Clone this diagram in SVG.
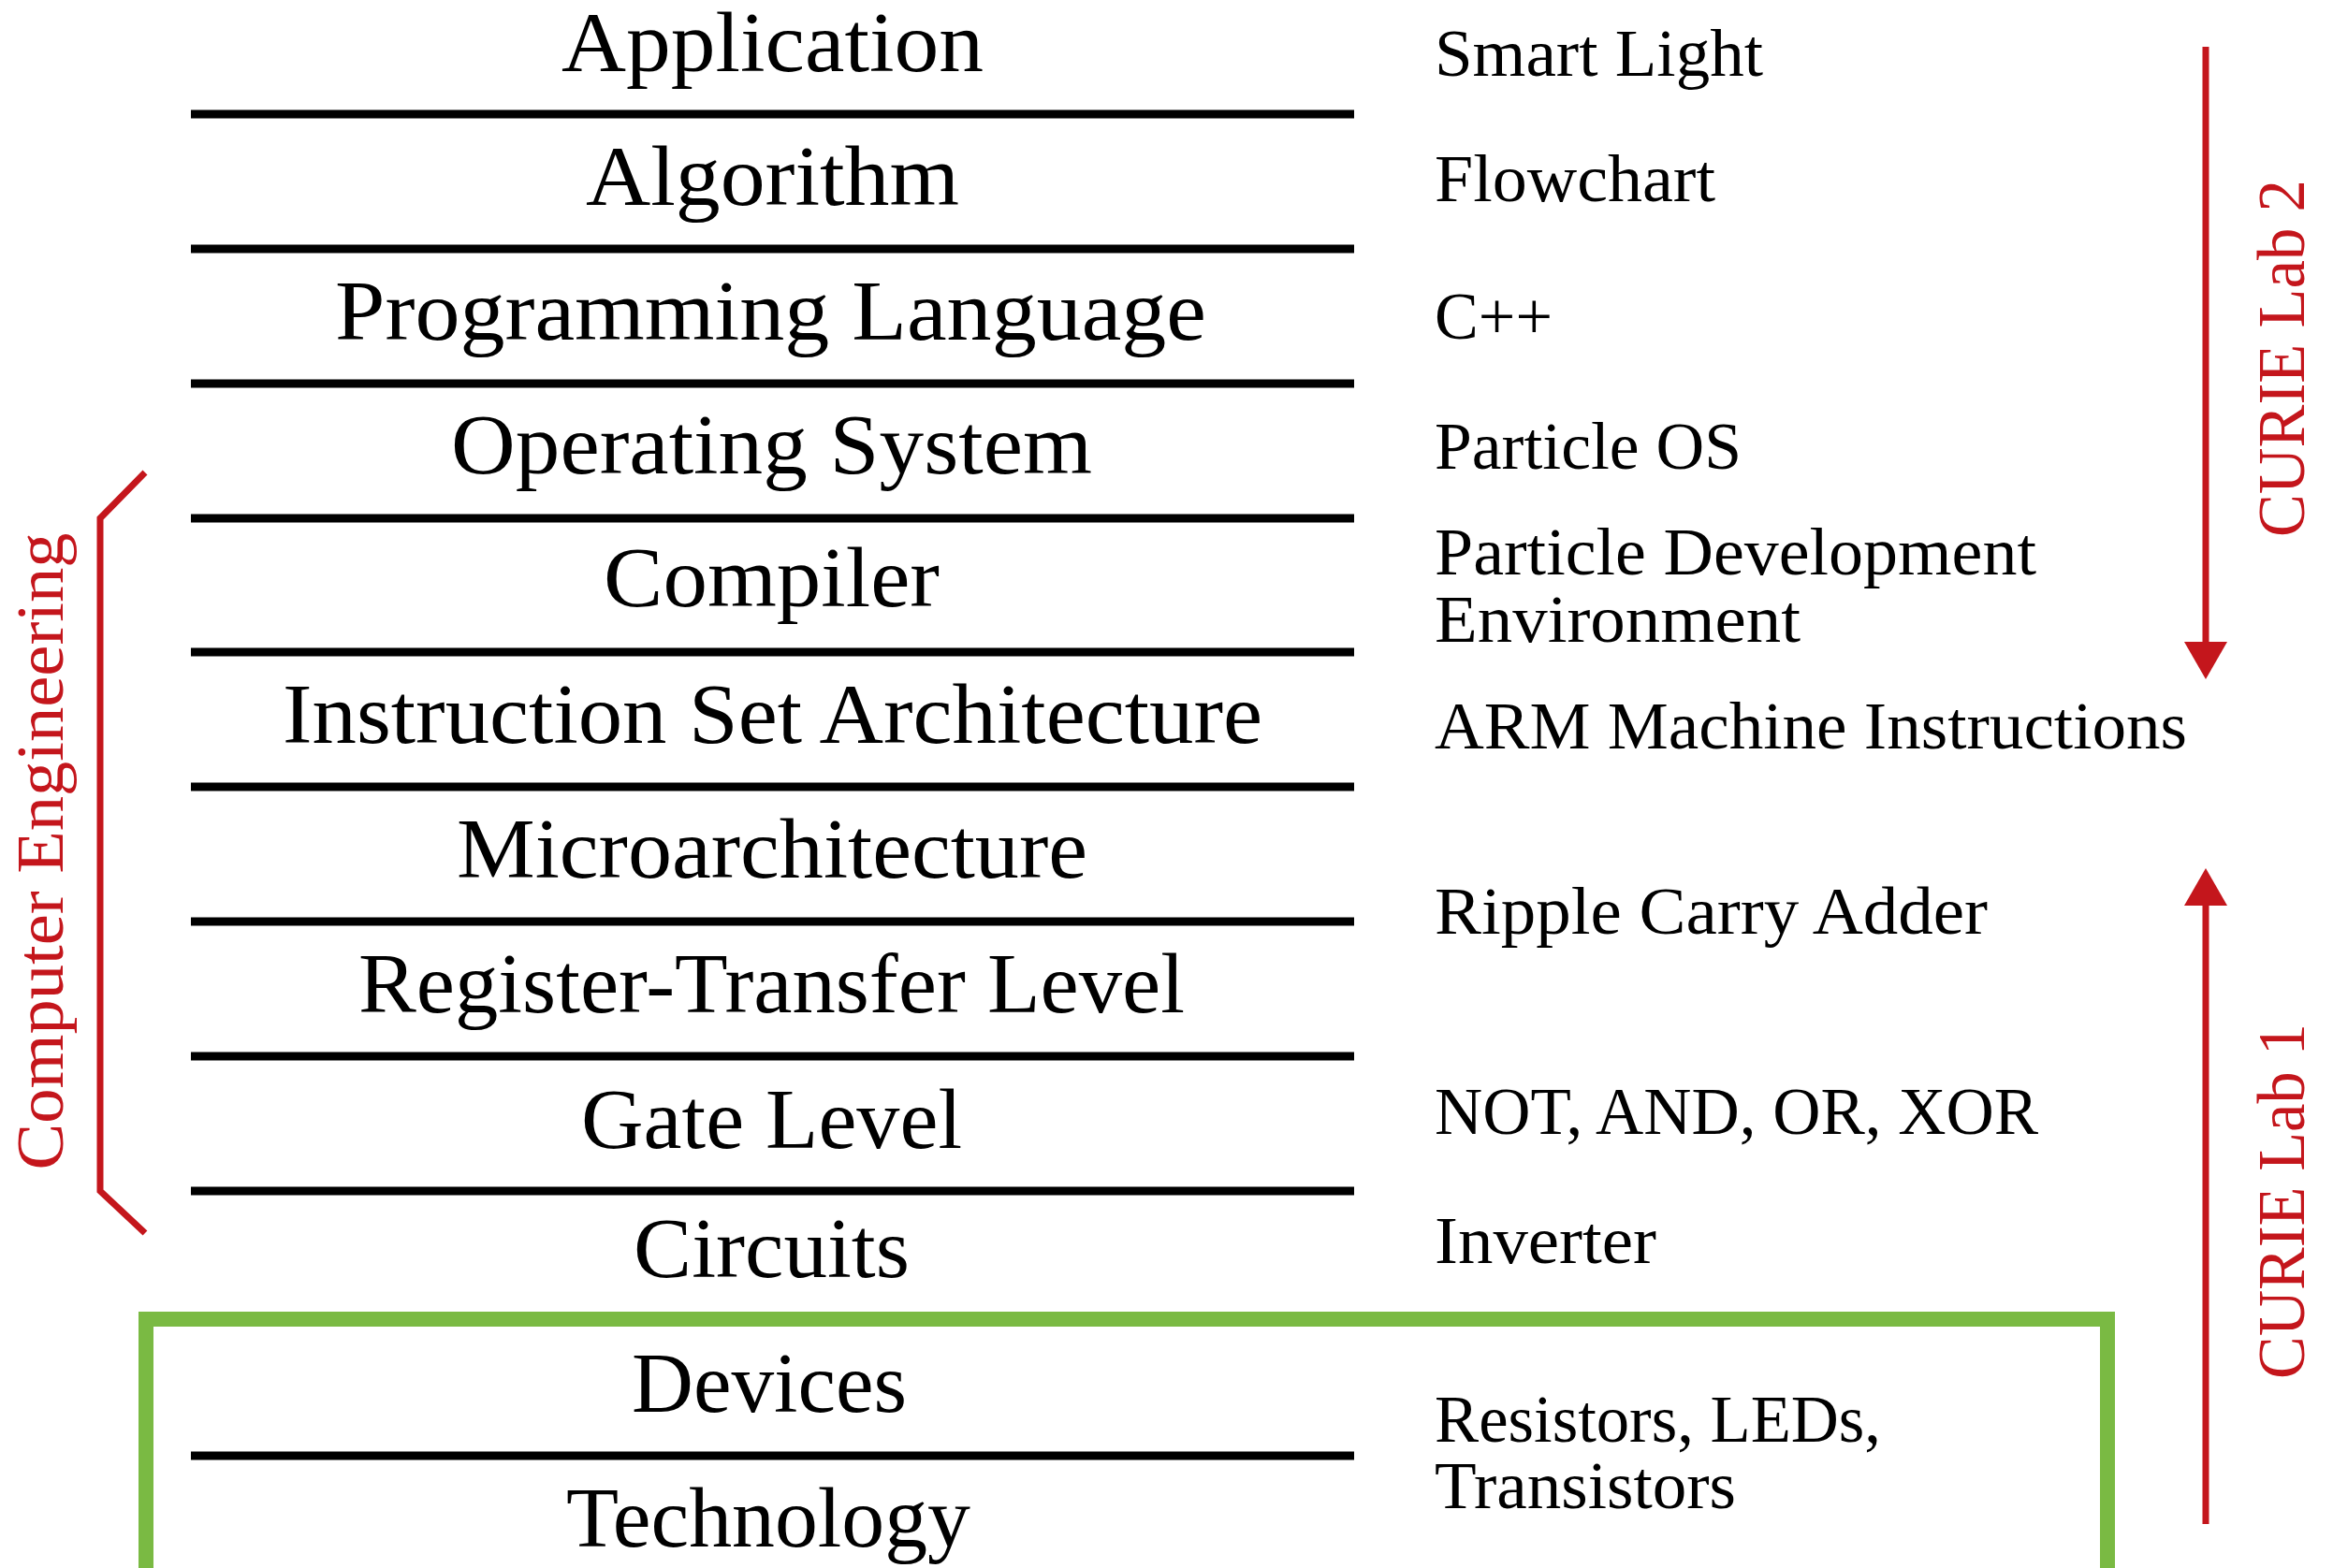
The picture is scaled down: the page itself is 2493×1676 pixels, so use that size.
<svg xmlns="http://www.w3.org/2000/svg" width="2493" height="1676" viewBox="0 0 2493 1676">
<defs>
<style>
.lbl{font-family:"Liberation Serif","DejaVu Serif",serif;font-size:90px;fill:#000}
.ex{font-family:"Liberation Serif","DejaVu Serif",serif;font-size:72px;fill:#000}
.red{font-family:"Liberation Serif","DejaVu Serif",serif;font-size:72px;fill:#c4161c}
.sep{stroke:#000;stroke-width:9}
.rl{stroke:#c4161c;stroke-width:7;fill:none}
</style>
</defs>
<rect width="2493" height="1676" fill="#fff"/>
<g id="connectors">
<line class="sep" x1="204" y1="122" x2="1447" y2="122"/>
<line class="sep" x1="204" y1="266" x2="1447" y2="266"/>
<line class="sep" x1="204" y1="410" x2="1447" y2="410"/>
<line class="sep" x1="204" y1="554" x2="1447" y2="554"/>
<line class="sep" x1="204" y1="697" x2="1447" y2="697"/>
<line class="sep" x1="204" y1="841" x2="1447" y2="841"/>
<line class="sep" x1="204" y1="985" x2="1447" y2="985"/>
<line class="sep" x1="204" y1="1129" x2="1447" y2="1129"/>
<line class="sep" x1="204" y1="1273" x2="1447" y2="1273"/>
<line class="sep" x1="204" y1="1556" x2="1447" y2="1556"/>
</g>
<g id="green-box"><path d="M156,1700 V1410 H2252 V1700" fill="none" stroke="#7aba43" stroke-width="16"/></g>
<g id="application"><text class="lbl" x="600" y="76" textLength="451" lengthAdjust="spacingAndGlyphs">Application</text></g>
<g id="algorithm"><text class="lbl" x="626" y="219" textLength="399" lengthAdjust="spacingAndGlyphs">Algorithm</text></g>
<g id="programming-language"><text class="lbl" x="358" y="363" textLength="931" lengthAdjust="spacingAndGlyphs">Programming Language</text></g>
<g id="operating-system"><text class="lbl" x="482" y="506" textLength="685" lengthAdjust="spacingAndGlyphs">Operating System</text></g>
<g id="compiler"><text class="lbl" x="645" y="648" textLength="359" lengthAdjust="spacingAndGlyphs">Compiler</text></g>
<g id="isa"><text class="lbl" x="302" y="794" textLength="1047" lengthAdjust="spacingAndGlyphs">Instruction Set Architecture</text></g>
<g id="microarchitecture"><text class="lbl" x="488" y="938" textLength="674" lengthAdjust="spacingAndGlyphs">Microarchitecture</text></g>
<g id="rtl"><text class="lbl" x="383" y="1082" textLength="883" lengthAdjust="spacingAndGlyphs">Register-Transfer Level</text></g>
<g id="gate-level"><text class="lbl" x="621" y="1227" textLength="407" lengthAdjust="spacingAndGlyphs">Gate Level</text></g>
<g id="circuits"><text class="lbl" x="677" y="1365" textLength="295" lengthAdjust="spacingAndGlyphs">Circuits</text></g>
<g id="devices"><text class="lbl" x="675" y="1509" textLength="294" lengthAdjust="spacingAndGlyphs">Devices</text></g>
<g id="technology"><text class="lbl" x="605" y="1653" textLength="432" lengthAdjust="spacingAndGlyphs">Technology</text></g>
<g id="examples">
<text class="ex" x="1533" y="81" textLength="351" lengthAdjust="spacingAndGlyphs">Smart Light</text>
<text class="ex" x="1533" y="215" textLength="300" lengthAdjust="spacingAndGlyphs">Flowchart</text>
<text class="ex" x="1533" y="362" textLength="126" lengthAdjust="spacingAndGlyphs">C++</text>
<text class="ex" x="1533" y="501" textLength="328" lengthAdjust="spacingAndGlyphs">Particle OS</text>
<text class="ex" x="1533" y="614" textLength="643" lengthAdjust="spacingAndGlyphs">Particle Development</text>
<text class="ex" x="1533" y="686" textLength="391" lengthAdjust="spacingAndGlyphs">Environment</text>
<text class="ex" x="1533" y="800" textLength="804" lengthAdjust="spacingAndGlyphs">ARM Machine Instructions</text>
<text class="ex" x="1533" y="998" textLength="591" lengthAdjust="spacingAndGlyphs">Ripple Carry Adder</text>
<text class="ex" x="1533" y="1212" textLength="645" lengthAdjust="spacingAndGlyphs">NOT, AND, OR, XOR</text>
<text class="ex" x="1533" y="1350" textLength="237" lengthAdjust="spacingAndGlyphs">Inverter</text>
<text class="ex" x="1533" y="1541" textLength="477" lengthAdjust="spacingAndGlyphs">Resistors, LEDs,</text>
<text class="ex" x="1533" y="1612" textLength="322" lengthAdjust="spacingAndGlyphs">Transistors</text>
</g>
<g id="computer-engineering">
<path class="rl" d="M155,505 L107,554 V1273 L155,1318"/>
<text class="red" transform="translate(67,910) rotate(-90)" text-anchor="middle" textLength="681" lengthAdjust="spacingAndGlyphs">Computer Engineering</text>
</g>
<g id="curie-lab-2">
<line class="rl" x1="2357" y1="50" x2="2357" y2="690"/>
<polygon points="2357,726 2334,686 2380,686" fill="#c4161c"/>
<text class="red" transform="translate(2462,383) rotate(-90)" text-anchor="middle" textLength="382" lengthAdjust="spacingAndGlyphs">CURIE Lab 2</text>
</g>
<g id="curie-lab-1">
<line class="rl" x1="2357" y1="1629" x2="2357" y2="964"/>
<polygon points="2357,928 2334,968 2380,968" fill="#c4161c"/>
<text class="red" transform="translate(2462,1284) rotate(-90)" text-anchor="middle" textLength="380" lengthAdjust="spacingAndGlyphs">CURIE Lab 1</text>
</g>
</svg>
